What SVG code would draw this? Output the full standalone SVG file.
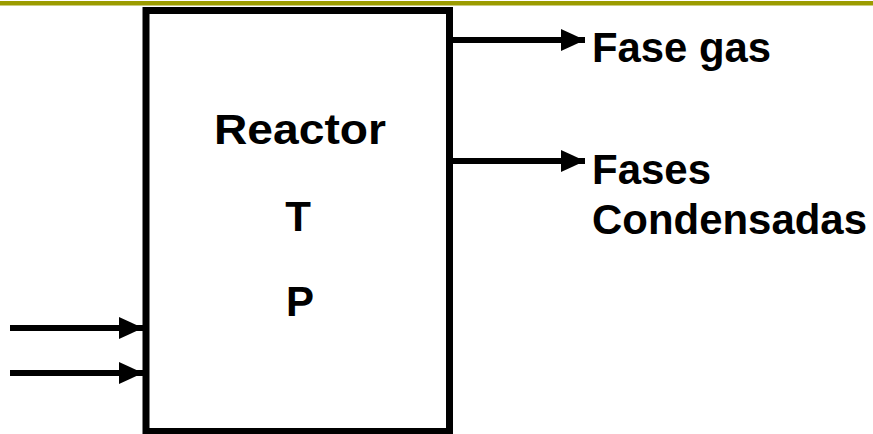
<svg xmlns="http://www.w3.org/2000/svg" width="873" height="434" viewBox="0 0 873 434">
  <style>
    .lbl { font-family: "Liberation Sans", Arial, sans-serif; font-weight: bold; font-size: 42px; fill: #000; }
    .conn { stroke: #000; stroke-width: 6; fill: none; }
  </style>
  <defs>
    <marker id="ah" markerUnits="userSpaceOnUse" markerWidth="24" markerHeight="24" refX="24" refY="11" orient="auto">
      <path d="M0,0 L24,11 L0,22 Z" fill="#000"/>
    </marker>
  </defs>
  <rect x="0" y="0" width="873" height="434" fill="#fff"/>
  <rect x="0" y="1" width="873" height="4.5" fill="#9c9c00"/>
  <g id="reactor">
    <rect x="146" y="10.5" width="303.5" height="421" fill="none" stroke="#000" stroke-width="7"/>
    <text class="lbl" x="300" y="144" text-anchor="middle" textLength="172" lengthAdjust="spacingAndGlyphs">Reactor</text>
    <text class="lbl" x="298" y="231" text-anchor="middle">T</text>
    <text class="lbl" x="300" y="316" text-anchor="middle">P</text>
  </g>
  <g id="fase-gas">
    <text class="lbl" x="592" y="62" textLength="179" lengthAdjust="spacingAndGlyphs">Fase gas</text>
  </g>
  <g id="fases-condensadas">
    <text class="lbl" x="592" y="184">Fases</text>
    <text class="lbl" x="592" y="234" textLength="275" lengthAdjust="spacingAndGlyphs">Condensadas</text>
  </g>
  <g id="connectors">
    <line class="conn" x1="453" y1="40" x2="585" y2="40" marker-end="url(#ah)"/>
    <line class="conn" x1="453" y1="161" x2="585" y2="161" marker-end="url(#ah)"/>
    <line class="conn" x1="10" y1="328" x2="143" y2="328" marker-end="url(#ah)"/>
    <line class="conn" x1="10" y1="373" x2="143" y2="373" marker-end="url(#ah)"/>
  </g>
</svg>
